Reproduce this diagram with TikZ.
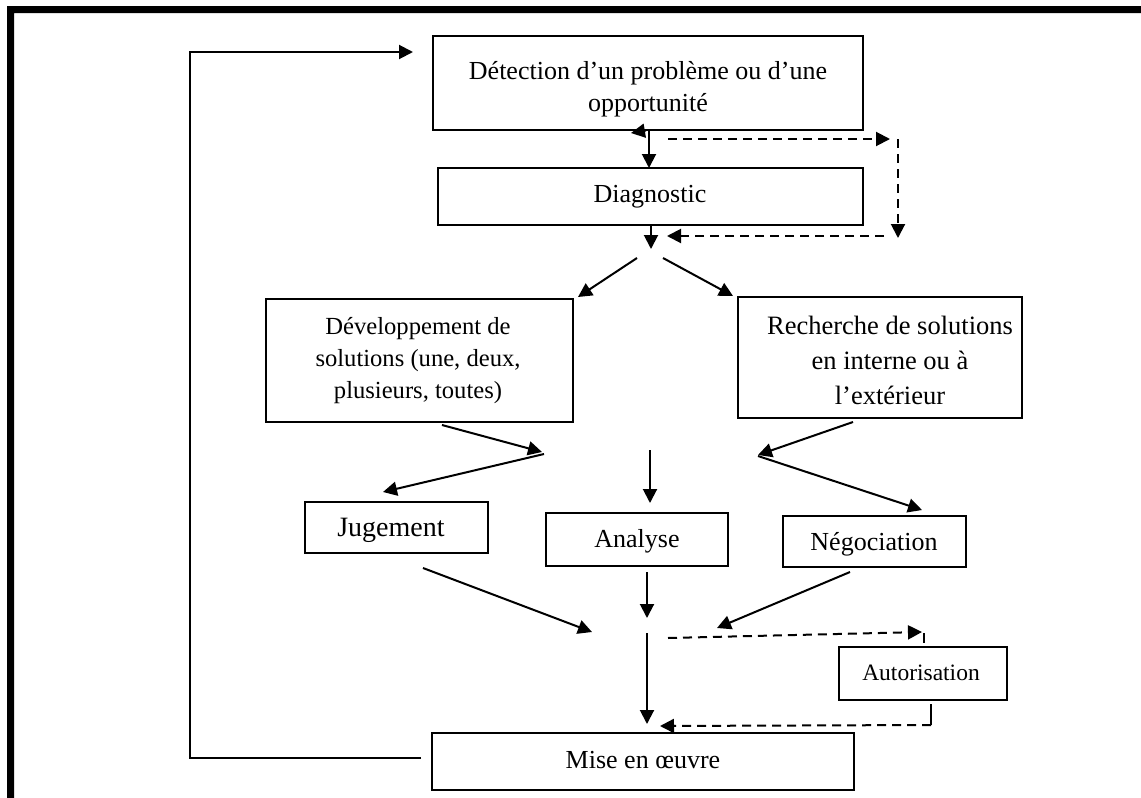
\documentclass[tikz,border=0pt]{standalone}
\usepackage{fontspec}
\setmainfont{Liberation Serif}
\usetikzlibrary{arrows.meta}
\newcommand\setfs[2]{\fontsize{#1}{#2}\selectfont}
\begin{document}
\begin{tikzpicture}[x=1pt,y=-1pt,
  box/.style={draw,line width=1.6pt,inner sep=0pt,rectangle},
  lbl/.style={inner sep=0pt,align=center},
  plain/.style={line width=2pt},
  arr/.style={line width=2pt,-{Triangle[length=14pt,width=14pt]}},
  darr/.style={arr,dash pattern=on 9pt off 6pt}]
\useasboundingbox (0,0) rectangle (1141,798);
% heavy frame on the top and left sides
\fill (7,798) -- (7,6) -- (1141,6) -- (1141,13) -- (14,13) -- (14,798) -- cycle;

% boxes
\node[box,minimum width=430pt,minimum height=94pt] (det) at (648,83) {};
\node[lbl,font=\setfs{26}{32}] (dett) at (648,89) {Détection d’un problème ou d’une\\opportunité};
\node[box,minimum width=425pt,minimum height=57pt] (diag) at (650.5,196.5) {};
\node[lbl,font=\setfs{26}{32}] (diagt) at (650,197) {Diagnostic};
\node[box,minimum width=307pt,minimum height=123pt] (dev) at (419.5,360.5) {};
\node[lbl,font=\setfs{24.6}{32}] (devt) at (418,361) {Développement de\\solutions (une, deux,\\plusieurs, toutes)};
\node[box,minimum width=284pt,minimum height=121pt] (rech) at (880,357.5) {};
\node[lbl,font=\setfs{26.5}{35}] (recht) at (890,360) {Recherche de solutions\\en interne ou à\\l’extérieur};
\node[box,minimum width=183pt,minimum height=51pt] (jug) at (396.5,527.5) {};
\node[lbl,font=\setfs{28}{32}] (jugt) at (391,530) {Jugement};
\node[box,minimum width=182pt,minimum height=53pt] (ana) at (637,539.5) {};
\node[lbl,font=\setfs{26}{32}] (anat) at (637,541) {Analyse};
\node[box,minimum width=183pt,minimum height=51pt] (neg) at (874.5,541.5) {};
\node[lbl,font=\setfs{26}{32}] (negt) at (874,544) {Négociation};
\node[box,minimum width=168pt,minimum height=53pt] (aut) at (923,673.5) {};
\node[lbl,font=\setfs{23.5}{30}] (autt) at (921,673) {Autorisation};
\node[box,minimum width=422pt,minimum height=57pt] (mise) at (643,761.5) {};
\node[lbl,font=\setfs{26}{32}] (miset) at (643,760) {Mise en œuvre};

% connector end points
\coordinate (detS) at (649,130);
\coordinate (diagN) at (649,168);
\coordinate (tickA) at (646,130.5);
\coordinate (tickB) at (631,133);
\coordinate (dsA) at (668,139);
\coordinate (dsB) at (890,139);
\coordinate (dsC) at (898,139);
\coordinate (dsD) at (898,238);
\coordinate (dsE) at (884,236);
\coordinate (dsF) at (667,236);
\coordinate (diagS) at (651,225);
\coordinate (split) at (651,249);
\coordinate (splitL) at (637,258);
\coordinate (splitR) at (663,258);
\coordinate (devN) at (578,297);
\coordinate (rechN) at (733,296);
\coordinate (devS) at (442,425);
\coordinate (jA) at (542,452);
\coordinate (jB) at (544,454);
\coordinate (jugN) at (383,492);
\coordinate (rechS) at (853,422);
\coordinate (nA) at (758,455);
\coordinate (nB) at (758,456);
\coordinate (negN) at (922,510);
\coordinate (midA) at (650,450);
\coordinate (anaN) at (650,503);
\coordinate (jugS) at (423,568);
\coordinate (mJ) at (592,632);
\coordinate (anaS) at (647,572);
\coordinate (mA) at (647,618);
\coordinate (negS) at (850,572);
\coordinate (mN) at (717,628);
\coordinate (mTop) at (647,633);
\coordinate (miseN) at (647,724);
\coordinate (auA) at (668,638);
\coordinate (auB) at (922,632);
\coordinate (auC) at (924,633);
\coordinate (autN) at (924,643);
\coordinate (autS) at (931,704);
\coordinate (auD) at (931,725);
\coordinate (auE) at (660,726);
\coordinate (miseW) at (421,758);
\coordinate (loopB) at (190,758);
\coordinate (loopT) at (190,52);
\coordinate (detW) at (413,52);

% connectors
\draw[arr] (detS) -- (diagN);
\draw[arr] (tickA) -- (tickB);
\draw[darr] (dsA) -- (dsB);
\draw[darr] (dsC) -- (dsD);
\draw[darr] (dsE) -- (dsF);
\draw[arr] (diagS) -- (split);
\draw[arr] (splitL) -- (devN);
\draw[arr] (splitR) -- (rechN);
\draw[arr] (devS) -- (jA);
\draw[arr] (jB) -- (jugN);
\draw[arr] (rechS) -- (nA);
\draw[arr] (nB) -- (negN);
\draw[arr] (midA) -- (anaN);
\draw[arr] (jugS) -- (mJ);
\draw[arr] (anaS) -- (mA);
\draw[arr] (negS) -- (mN);
\draw[arr] (mTop) -- (miseN);
\draw[darr] (auA) -- (auB);
\draw[plain] (auC) -- (autN);
\draw[plain] (autS) -- (auD);
\draw[darr] (auD) -- (auE);
\draw[arr] (miseW) -- (loopB) -- (loopT) -- (detW);
\end{tikzpicture}
\end{document}
